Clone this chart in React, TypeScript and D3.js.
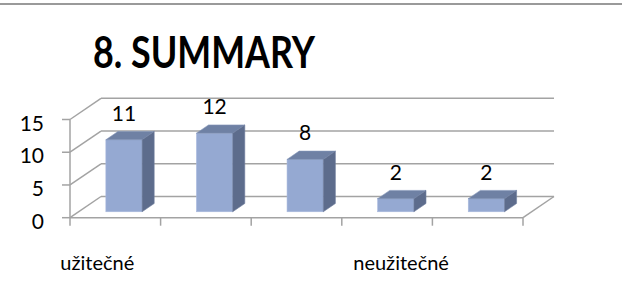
import React from "react";
import * as d3 from "d3";

const categories = ["c1", "c2", "c3", "c4", "c5"];
const values = [11, 12, 8, 2, 2];
const yTicks = [0, 5, 10, 15];
const title = "8. SUMMARY";
const axisLabels = [
  { text: "užitečné", cat: 0, dx: -18 },
  { text: "neužitečné", cat: 3, dx: 14 },
];

const W = 622, H = 290;
const FONT = "Lato, Carlito, 'Open Sans', sans-serif";

export default function App() {
  // geometry
  const x0 = 70, x1 = 523, baseY = 217.7;
  const depthX = 31, depthY = -21.2;
  const x = d3.scaleBand<string>().domain(categories).range([x0, x1]).paddingInner(0).paddingOuter(0);
  const h = d3.scaleLinear().domain([0, 15]).range([0, 98.2]);
  const barW = x.bandwidth() * 0.4;
  const f1 = 0.28, f2 = 0.67; // bar depth fractions
  const grid = "#a3a3a3";

  const bars = values.map((v, i) => {
    const c = (x(categories[i]) as number) + x.bandwidth() / 2;
    const fx = c - barW / 2 + depthX * f1;
    const fy = baseY + depthY * f1;
    const ddx = depthX * (f2 - f1), ddy = depthY * (f2 - f1);
    const hh = h(v);
    const top = fy - hh;
    return (
      <g key={i}>
        <rect x={fx} y={top} width={barW} height={hh} fill="#95a9d2" stroke="#a9bade" strokeWidth={0.6} />
        <polygon
          points={`${fx},${top} ${fx + ddx},${top + ddy} ${fx + barW + ddx},${top + ddy} ${fx + barW},${top}`}
          fill="#6f81a4" stroke="#8395b8" strokeWidth={0.6}
        />
        <polygon
          points={`${fx + barW},${top} ${fx + barW + ddx},${top + ddy} ${fx + barW + ddx},${fy + ddy} ${fx + barW},${fy}`}
          fill="#5d6c8c" stroke="#7080a0" strokeWidth={0.6}
        />
        <text x={fx + barW / 2} y={top - 19} textAnchor="middle" fontSize={21} fontFamily={FONT} fill="#000">
          {v}
        </text>
      </g>
    );
  });

  return (
    <svg width={W} height={H} style={{ position: "absolute", left: 0, top: 0, background: "#fff" }}>
      <line x1={0} x2={W} y1={4} y2={4} stroke="#9a9a9a" strokeWidth={2} />
      <text x={93} y={68} textAnchor="start" fontSize={43} fontWeight={700} fontFamily={FONT} fill="#000"
        textLength={222} lengthAdjust="spacingAndGlyphs">
        {title}
      </text>
      {/* back wall gridlines */}
      {yTicks.map((t) => (
        <line key={"g" + t} x1={x0 + depthX} x2={x1 + depthX} y1={baseY + depthY - h(t)} y2={baseY + depthY - h(t)} stroke={grid} strokeWidth={1.5} />
      ))}
      {/* side wall diagonals */}
      {yTicks.map((t) => (
        <line key={"d" + t} x1={x0} x2={x0 + depthX} y1={baseY - h(t)} y2={baseY + depthY - h(t)} stroke={grid} strokeWidth={1.5} />
      ))}
      {/* floor right diagonal */}
      <line x1={x1} x2={x1 + depthX} y1={baseY} y2={baseY + depthY} stroke={grid} strokeWidth={1.5} />
      {/* front value axis */}
      <line x1={x0} x2={x0} y1={baseY - h(15)} y2={baseY} stroke={grid} strokeWidth={1.5} />
      {yTicks.map((t) => (
        <g key={"t" + t}>
          <line x1={x0 - 8} x2={x0} y1={baseY - h(t)} y2={baseY - h(t)} stroke={grid} strokeWidth={1.5} />
          <text x={44} y={baseY - h(t) + 2.5} textAnchor="end" dominantBaseline="central" fontSize={21} fontFamily={FONT} fill="#000">
            {t}
          </text>
        </g>
      ))}
      {/* category axis */}
      <line x1={x0} x2={x1} y1={baseY} y2={baseY} stroke={grid} strokeWidth={1.5} />
      {[...categories.map((c) => x(c) as number), x1].map((px, i) => (
        <line key={"ct" + i} x1={px} x2={px} y1={baseY} y2={baseY + 8} stroke={grid} strokeWidth={1.5} />
      ))}
      {bars}
      {axisLabels.map((l, i) => (
        <text key={"al" + i} x={(x(categories[l.cat]) as number) + x.bandwidth() / 2 + l.dx} y={270} textAnchor="middle" fontSize={20} fontFamily={FONT} fill="#000">
          {l.text}
        </text>
      ))}
    </svg>
  );
}
